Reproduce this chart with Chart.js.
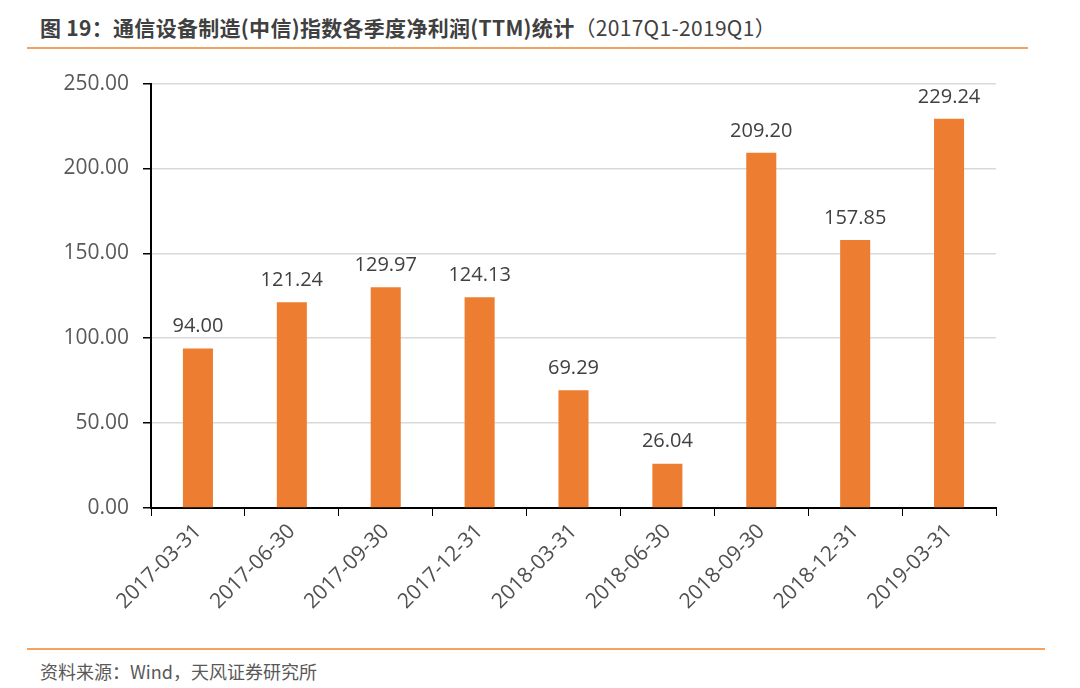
<!DOCTYPE html>
<html>
<head>
<meta charset="utf-8">
<script src="https://cdn.jsdelivr.net/npm/chart.js@4/dist/chart.umd.min.js"></script>
<style>
  html, body { margin: 0; padding: 0; background: #fff; }
  #wrap { position: relative; width: 1080px; height: 688px; overflow: hidden; }
  #title { position: absolute; left: 40px; top: 12px; font: bold 21px "Noto Sans CJK SC", "Noto Sans", sans-serif; color: #404040; white-space: nowrap; letter-spacing: 0.3px; }
  #title .lat { font-weight: normal; }
  .rule { position: absolute; height: 2px; background: #f5a15f; }
  #source { position: absolute; left: 40px; top: 658px; font: 18px "Noto Sans CJK SC", "Noto Sans", sans-serif; color: #595959; white-space: nowrap; }
  #cv { position: absolute; left: 0; top: 57px; }
</style>
</head>
<body>
<div id="wrap">
  <div id="title">图 19：通信设备制造(中信)指数各季度净利润(TTM)统计<span class="lat">（2017Q1-2019Q1）</span></div>
  <div class="rule" style="left:27px; top:47px; width:1001px;"></div>
  <canvas id="cv" width="1080" height="583"></canvas>
  <div class="rule" style="left:27px; top:648px; width:1018px;"></div>
  <div id="source">资料来源：Wind，天风证券研究所</div>
</div>
<script>
// quarters and TTM net profit (亿元)
const quarters = ["2017-03-31", "2017-06-30", "2017-09-30", "2017-12-31", "2018-03-31",
                  "2018-06-30", "2018-09-30", "2018-12-31", "2019-03-31"];
const netProfit = [94.00, 121.24, 129.97, 124.13, 69.29, 26.04, 209.20, 157.85, 229.24];
const yTicks = [0, 50, 100, 150, 200, 250];

const numFont = "'Open Sans', 'Noto Sans', sans-serif";

// value labels above each bar
const barLabels = {
  id: "barLabels",
  afterDatasetsDraw(chart) {
    const c = chart.ctx;
    const meta = chart.getDatasetMeta(0);
    c.save();
    c.font = "20px " + numFont;
    c.fillStyle = "#404040";
    c.textAlign = "center";
    c.textBaseline = "bottom";
    meta.data.forEach((bar, i) => {
      c.fillText(netProfit[i].toFixed(2), bar.x, bar.y - 12);
    });
    c.restore();
  },
};

new Chart(document.getElementById("cv"), {
  type: "bar",
  data: {
    labels: quarters,
    datasets: [{
      data: netProfit,
      backgroundColor: "#ED7D31",
      categoryPercentage: 1,
      barPercentage: 0.32,
    }],
  },
  options: {
    responsive: false,
    animation: false,
    layout: { padding: { top: 20, right: 84, bottom: 0, left: 0 } },
    plugins: { legend: { display: false }, tooltip: { enabled: false } },
    scales: {
      x: {
        offset: true,
        grid: { display: true, drawOnChartArea: false, drawTicks: true, tickLength: 8, tickColor: "#000", offset: true },
        border: { color: "#000", width: 2 },
        ticks: { color: "#505050", font: { size: 21, family: numFont }, minRotation: 45, maxRotation: 45, padding: 3 },
        afterFit: (s) => { s.height = 132; },
      },
      y: {
        min: 0, max: 250,
        afterBuildTicks: (s) => { s.ticks = yTicks.map((v) => ({ value: v })); },
        grid: { color: "#d9d9d9", lineWidth: 1.5, tickLength: 8, tickColor: "#000" },
        border: { color: "#000", width: 2 },
        ticks: { color: "#595959", font: { size: 21, family: numFont }, padding: 14,
                 callback: (v) => v.toFixed(2) },
        afterFit: (s) => { s.width = 151; },
      },
    },
  },
  plugins: [barLabels],
});
</script>
</body>
</html>
